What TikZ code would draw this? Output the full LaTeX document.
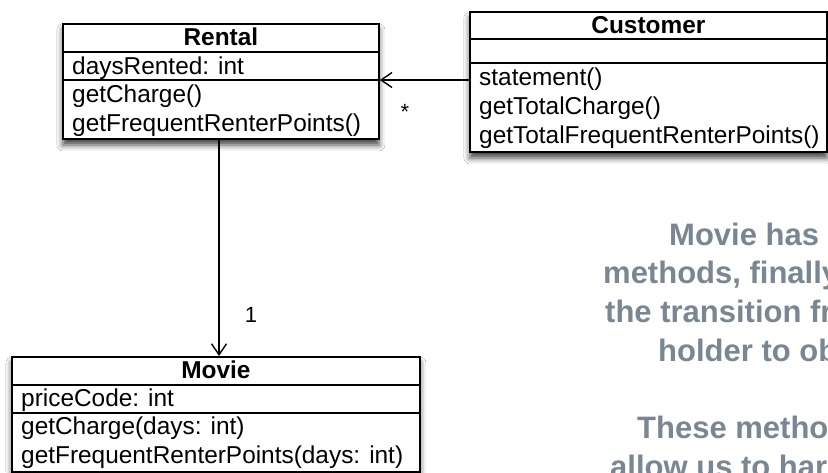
\documentclass[tikz,border=0pt]{standalone}
\usepackage{fontspec}
\setmainfont{Liberation Sans}
\usetikzlibrary{arrows.meta,shadows.blur}
\definecolor{notegray}{HTML}{7A8793}
\tikzset{
  cls/.style={draw=black, line width=1.8pt, fill=white, inner sep=0pt, anchor=north west,
    blur shadow={shadow xshift=0pt, shadow yshift=-6pt, shadow blur radius=6pt, shadow opacity=75}},
  row/.style={anchor=base west, inner sep=0pt, font=\fontsize{24.4}{29}\selectfont},
  ctitle/.style={anchor=base, inner sep=0pt, font=\fontsize{24.4}{29}\selectfont\bfseries},
  divider/.style={line width=1.4pt},
  assoc/.style={line width=1.4pt, -{Straight Barb[length=11pt,width=15pt,line width=1.4pt]}},
  mult/.style={font=\fontsize{22}{26}\selectfont, inner sep=0pt},
  note/.style={anchor=base west, inner sep=0pt, text=notegray, font=\fontsize{31}{38}\selectfont\bfseries}
}
\begin{document}
\begin{tikzpicture}[x=1pt,y=-1pt]
\useasboundingbox (0,0) rectangle (828,472);
\clip (0,0) rectangle (828,472);
\fill[white] (0,0) rectangle (828,472);

% Rental
\node[cls, minimum width=316pt, minimum height=115pt] (ren) at (62,23) {};
\draw[divider] (ren.west |- 0,52) -- (ren.east |- 0,52);
\draw[divider] (ren.west |- 0,80) -- (ren.east |- 0,80);
\node[ctitle] (rentitle) at (ren.north |- 0,45) {Rental};
\node[row] (rendays) at (72,74) {daysRented: int};
\node[row] (rencharge) at (72,102) {getCharge()};
\node[row] (renpoints) at (72,131) {getFrequentRenterPoints()};

% Customer
\node[cls, minimum width=357pt, minimum height=140pt] (cust) at (469,11) {};
\draw[divider] (cust.west |- 0,39) -- (cust.east |- 0,39);
\draw[divider] (cust.west |- 0,63) -- (cust.east |- 0,63);
\node[ctitle] (custtitle) at (cust.north |- 0,33) {Customer};
\node[row] (custstmt) at (479,85) {statement()};
\node[row] (custcharge) at (479,114) {getTotalCharge()};
\node[row] (custpoints) at (479,143) {getTotalFrequentRenterPoints()};

% Movie
\node[cls, minimum width=408pt, minimum height=115pt] (mov) at (11,356) {};
\draw[divider] (mov.west |- 0,385) -- (mov.east |- 0,385);
\draw[divider] (mov.west |- 0,413) -- (mov.east |- 0,413);
\node[ctitle] (movtitle) at (mov.north |- 0,378) {Movie};
\node[row] (movcode) at (21,406) {priceCode: int};
\node[row] (movcharge) at (21,434) {getCharge(days: int)};
\node[row] (movpoints) at (21,463) {getFrequentRenterPoints(days: int)};

% Associations
\draw[assoc] (cust.west |- 0,80) -- (ren.east |- 0,80);
\draw[assoc] (ren.south -| 219,0) -- (mov.north -| 219,0);
\node[mult] (star) at (405,112) {*};
\node[mult] (one) at (251,315) {1};

% Note
\node[note] (n1) at (669,245) {Movie has};
\node[note] (n2) at (603,283) {methods, finally};
\node[note] (n3) at (605,322) {the transition fr};
\node[note] (n4) at (658,361) {holder to ob};
\node[note] (n5) at (637,438) {These metho};
\node[note] (n6) at (610,477) {allow us to har};
\end{tikzpicture}
\end{document}
